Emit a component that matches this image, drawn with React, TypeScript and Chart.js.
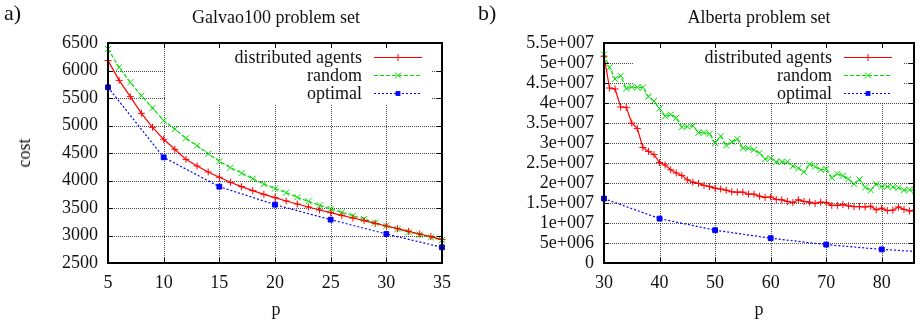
import React, { useEffect, useRef } from 'react';
import { Chart, registerables } from 'chart.js';

Chart.register(...registerables);

const FONT = '"Liberation Serif", "Times New Roman", serif';

// ---------- Galvao100 problem set ----------
const galvaoP = [5, 6, 7, 8, 9, 10, 11, 12, 13, 14, 15, 16, 17, 18, 19, 20, 21, 22, 23, 24, 25, 26, 27, 28, 29, 30, 31, 32, 33, 34, 35];
const galvaoAgents = [6179, 5821, 5524, 5221, 4967, 4749, 4567, 4385, 4264, 4155, 4058, 3967, 3888, 3815, 3749, 3688, 3627, 3573, 3518, 3464, 3415, 3367, 3318, 3270, 3221, 3173, 3124, 3076, 3027, 2979, 2924];
const galvaoRandom = [6391, 6058, 5785, 5542, 5318, 5088, 4936, 4767, 4633, 4488, 4349, 4233, 4136, 4033, 3936, 3852, 3779, 3694, 3621, 3549, 3482, 3421, 3361, 3300, 3233, 3179, 3118, 3064, 3015, 2967, 2918];
const galvaoOptimalP = [5, 10, 15, 20, 25, 30, 35];
const galvaoOptimal = [5694, 4421, 3888, 3561, 3288, 3027, 2785];
const galvaoXTicks = [5, 10, 15, 20, 25, 30, 35];
const galvaoYTicks = [2500, 3000, 3500, 4000, 4500, 5000, 5500, 6000, 6500];

// ---------- Alberta problem set ----------
const albertaP = [30, 31, 32, 33, 34, 35, 36, 37, 38, 39, 40, 41, 42, 43, 44, 45, 46, 47, 48, 49, 50, 51, 52, 53, 54, 55, 56, 57, 58, 59, 60, 61, 62, 63, 64, 65, 66, 67, 68, 69, 70, 71, 72, 73, 74, 75, 76, 77, 78, 79, 80, 81, 82, 83, 84, 85, 86];
const albertaAgents = [
  5.17e7, 4.375e7, 4.35e7, 3.9e7, 3.89e7, 3.5e7, 3.36e7, 2.89e7, 2.79e7, 2.71e7,
  2.51e7, 2.45e7, 2.33e7, 2.25e7, 2.19e7, 2.08e7, 2.02e7, 1.99e7, 1.94e7, 1.91e7,
  1.87e7, 1.85e7, 1.82e7, 1.78e7, 1.77e7, 1.77e7, 1.72e7, 1.72e7, 1.67e7, 1.64e7,
  1.65e7, 1.59e7, 1.58e7, 1.54e7, 1.51e7, 1.58e7, 1.54e7, 1.52e7, 1.49e7, 1.52e7,
  1.51e7, 1.44e7, 1.44e7, 1.46e7, 1.43e7, 1.41e7, 1.41e7, 1.4e7, 1.42e7, 1.33e7,
  1.37e7, 1.31e7, 1.32e7, 1.4e7, 1.34e7, 1.3e7, 1.32e7,
];
const albertaRandom = [
  5.21e7, 4.89e7, 4.6e7, 4.68e7, 4.36e7, 4.4e7, 4.39e7, 4.39e7, 4.16e7, 4.05e7,
  3.86e7, 3.67e7, 3.71e7, 3.63e7, 3.4e7, 3.41e7, 3.43e7, 3.26e7, 3.26e7, 3.23e7,
  3.0e7, 3.17e7, 2.94e7, 3.03e7, 3.1e7, 2.87e7, 2.87e7, 2.83e7, 2.75e7, 2.6e7,
  2.62e7, 2.53e7, 2.53e7, 2.53e7, 2.42e7, 2.37e7, 2.27e7, 2.47e7, 2.41e7, 2.33e7,
  2.35e7, 2.13e7, 2.23e7, 2.18e7, 2.1e7, 1.98e7, 2.09e7, 1.89e7, 1.82e7, 1.97e7,
  1.91e7, 1.91e7, 1.9e7, 1.88e7, 1.82e7, 1.83e7, 1.81e7,
];
const albertaOptimalP = [30, 40, 50, 60, 70, 80, 86];
const albertaOptimal = [1.61e7, 1.11e7, 8.2e6, 6.2e6, 4.6e6, 3.4e6, 2.9e6];
const albertaXTicks = [30, 40, 50, 60, 70, 80];
const albertaYTicks = [0, 5e6, 1e7, 1.5e7, 2e7, 2.5e7, 3e7, 3.5e7, 4e7, 4.5e7, 5e7, 5.5e7];

const seriesLabels = ['distributed agents', 'random', 'optimal'];

const RED = '#ff0000';
const GREEN = '#00dd00';
const BLUE = '#0000ff';

function gnuplotExp(v: number): string {
  if (v === 0) return '0';
  const e = Math.floor(Math.log10(Math.abs(v)) + 1e-9);
  const m = Math.round((v / Math.pow(10, e)) * 1000) / 1000;
  const sign = e >= 0 ? '+' : '-';
  return `${m}e${sign}${String(Math.abs(e)).padStart(3, '0')}`;
}

function drawMarker(ctx: CanvasRenderingContext2D, style: string, x: number, y: number, color: string) {
  ctx.save();
  ctx.setLineDash([]);
  ctx.strokeStyle = color;
  ctx.fillStyle = color;
  ctx.lineWidth = 1;
  ctx.beginPath();
  if (style === 'cross') {
    ctx.moveTo(x - 3.5, y);
    ctx.lineTo(x + 3.5, y);
    ctx.moveTo(x, y - 3.5);
    ctx.lineTo(x, y + 3.5);
    ctx.stroke();
  } else if (style === 'crossRot') {
    const d = 3;
    ctx.moveTo(x - d, y - d);
    ctx.lineTo(x + d, y + d);
    ctx.moveTo(x - d, y + d);
    ctx.lineTo(x + d, y - d);
    ctx.stroke();
  } else {
    ctx.fillRect(x - 2.4, y - 2.4, 4.8, 4.8);
  }
  ctx.restore();
}

const gnuplotPlugin = {
  id: 'gnuplotFrame',
  beforeDatasetsDraw(chart: any, _args: any, opts: any) {
    const { ctx, chartArea } = chart;
    const { left, right, top, bottom } = chartArea;
    const xs = chart.scales.x;
    const ys = chart.scales.y;
    ctx.save();
    // dotted grid
    ctx.strokeStyle = 'rgba(0,0,0,0.7)';
    ctx.lineWidth = 1;
    ctx.setLineDash([1, 1]);
    ctx.beginPath();
    xs.ticks.forEach((t: any) => {
      const px = Math.round(xs.getPixelForValue(t.value)) + 0.5;
      ctx.moveTo(px, top);
      ctx.lineTo(px, bottom);
    });
    ys.ticks.forEach((t: any) => {
      const py = Math.round(ys.getPixelForValue(t.value)) + 0.5;
      ctx.moveTo(left, py);
      ctx.lineTo(right, py);
    });
    ctx.stroke();
    // opaque key box
    const b = opts.box;
    ctx.setLineDash([]);
    ctx.fillStyle = '#ffffff';
    ctx.fillRect(b.left, b.top, b.right - b.left, b.bottom - b.top);
    ctx.restore();
  },
  afterDatasetsDraw(chart: any, _args: any, opts: any) {
    const { ctx, chartArea } = chart;
    const { left, right, top, bottom } = chartArea;
    ctx.save();
    // inward tick marks
    ctx.strokeStyle = '#000';
    ctx.lineWidth = 1;
    ctx.setLineDash([]);
    const tl = 5;
    const xs = chart.scales.x;
    const ys = chart.scales.y;
    ctx.beginPath();
    xs.ticks.forEach((t: any) => {
      const px = Math.round(xs.getPixelForValue(t.value)) + 0.5;
      ctx.moveTo(px, bottom);
      ctx.lineTo(px, bottom - tl);
      ctx.moveTo(px, top);
      ctx.lineTo(px, top + tl);
    });
    ys.ticks.forEach((t: any) => {
      const py = Math.round(ys.getPixelForValue(t.value)) + 0.5;
      ctx.moveTo(left, py);
      ctx.lineTo(left + tl, py);
      ctx.moveTo(right, py);
      ctx.lineTo(right - tl, py);
    });
    ctx.stroke();
    // frame
    ctx.lineWidth = 2;
    ctx.strokeRect(left, top, right - left, bottom - top);

    // key entries
    const lg = opts.legend;
    ctx.font = `18px ${FONT}`;
    ctx.textAlign = 'right';
    ctx.textBaseline = 'middle';
    chart.data.datasets.forEach((ds: any, i: number) => {
      const y = lg.y0 + i * lg.dy;
      ctx.fillStyle = '#111';
      ctx.fillText(ds.label, lg.textRight, y + 1);
      ctx.save();
      ctx.strokeStyle = ds.borderColor;
      ctx.lineWidth = ds.borderWidth;
      ctx.setLineDash(ds.borderDash || []);
      ctx.beginPath();
      ctx.moveTo(lg.lineStart, y);
      ctx.lineTo(lg.lineEnd, y);
      ctx.stroke();
      ctx.restore();
      drawMarker(ctx, ds.pointStyle, (lg.lineStart + lg.lineEnd) / 2, y, ds.borderColor);
    });
    ctx.restore();
  },
};

type PanelProps = {
  xs: number[][];
  ys: number[][];
  markerEvery: (i: number, x: number, set: number) => boolean;
  xMin: number;
  xMax: number;
  xTicks: number[];
  yMin: number;
  yMax: number;
  yTicks: number[];
  yFormat: (v: number) => string;
  axisWidth: number;
  padRight: number;
  box: { left: number; right: number; top: number; bottom: number };
  legend: { textRight: number; lineStart: number; lineEnd: number; y0: number; dy: number };
  clip: any;
};

function Panel(props: PanelProps) {
  const ref = useRef<HTMLCanvasElement | null>(null);
  useEffect(() => {
    if (!ref.current) return;
    const colors = [RED, GREEN, BLUE];
    const styles = ['cross', 'crossRot', 'rect'];
    const dashes = [[], [4, 2], [2, 2]];
    const datasets = props.xs.map((xv, s) => ({
      label: seriesLabels[s],
      data: xv.map((x, i) => ({ x, y: props.ys[s][i] })),
      borderColor: colors[s],
      backgroundColor: colors[s],
      borderWidth: 1.2,
      borderDash: dashes[s],
      pointStyle: styles[s],
      pointRadius: xv.map((x, i) => (props.markerEvery(i, x, s) ? (s === 2 ? 3.4 : s === 1 ? 4.3 : 3.5) : 0)),
      pointBorderWidth: 1,
      pointBorderColor: colors[s],
      pointBackgroundColor: colors[s],
      tension: 0,
      clip: props.clip,
    }));
    const gridStyle = { display: false, drawTicks: false };
    const chart = new Chart(ref.current, {
      type: 'line',
      data: { datasets },
      plugins: [gnuplotPlugin as any],
      options: {
        responsive: false,
        animation: false,
        devicePixelRatio: 1,
        layout: { padding: { top: 43, right: props.padRight, bottom: 0, left: 0 } },
        plugins: {
          legend: { display: false },
          tooltip: { enabled: false },
          title: { display: false },
          gnuplotFrame: { box: props.box, legend: props.legend },
        } as any,
        scales: {
          x: {
            type: 'linear',
            min: props.xMin,
            max: props.xMax,
            afterBuildTicks: (s: any) => {
              s.ticks = props.xTicks.map((v) => ({ value: v }));
            },
            afterFit: (s: any) => {
              s.height = 64;
            },
            grid: gridStyle,
            border: { display: false },
            ticks: {
              font: { family: FONT, size: 18 },
              color: '#111',
              padding: 9,
              maxRotation: 0,
              autoSkip: false,
              callback: (v: any) => String(v),
            },
          },
          y: {
            type: 'linear',
            min: props.yMin,
            max: props.yMax,
            afterBuildTicks: (s: any) => {
              s.ticks = props.yTicks.map((v) => ({ value: v }));
            },
            afterFit: (s: any) => {
              s.width = props.axisWidth;
            },
            grid: gridStyle,
            border: { display: false },
            ticks: {
              font: { family: FONT, size: 18 },
              color: '#111',
              padding: 10,
              autoSkip: false,
              callback: (v: any) => props.yFormat(Number(v)),
            },
          },
        },
      } as any,
    });
    return () => chart.destroy();
  }, []);
  return <canvas ref={ref} width={460} height={327} style={{ position: 'absolute', left: 0, top: 0 }} />;
}

const textBase: React.CSSProperties = {
  position: 'absolute',
  fontFamily: FONT,
  color: '#111',
  whiteSpace: 'nowrap',
};

export default function App() {
  return (
    <div style={{ position: 'fixed', left: 0, top: 0, width: 920, height: 327, background: '#fff', overflow: 'hidden' }}>
      <div style={{ position: 'absolute', left: 0, top: 0, width: 460, height: 327 }}>
        <Panel
          xs={[galvaoP, galvaoP, galvaoOptimalP]}
          ys={[galvaoAgents, galvaoRandom, galvaoOptimal]}
          markerEvery={() => true}
          xMin={5}
          xMax={35}
          xTicks={galvaoXTicks}
          yMin={2500}
          yMax={6500}
          yTicks={galvaoYTicks}
          yFormat={(v) => String(v)}
          axisWidth={108}
          padRight={16}
          box={{ left: 166, right: 432, top: 43, bottom: 104 }}
          legend={{ textRight: 362, lineStart: 374, lineEnd: 422, y0: 57.5, dy: 18 }}
          clip={false}
        />
        <div style={{ ...textBase, left: 4, top: 2, fontSize: 22, lineHeight: '22px' }}>a)</div>
        <div style={{ ...textBase, left: 108, width: 336, top: 8, textAlign: 'center', fontSize: 18, lineHeight: '18px' }}>
          Galvao100 problem set
        </div>
        <div style={{ ...textBase, left: 108, width: 336, top: 300, textAlign: 'center', fontSize: 18, lineHeight: '18px' }}>p</div>
        <div
          style={{
            ...textBase,
            left: 24,
            top: 153,
            fontSize: 18,
            lineHeight: '18px',
            transform: 'translate(-50%, -50%) rotate(-90deg)',
          }}
        >
          cost
        </div>
      </div>
      <div style={{ position: 'absolute', left: 460, top: 0, width: 460, height: 327 }}>
        <Panel
          xs={[albertaP, albertaP, albertaOptimalP]}
          ys={[albertaAgents, albertaRandom, albertaOptimal]}
          markerEvery={(i, x, s) => (s === 2 ? x % 10 === 0 : true)}
          xMin={30}
          xMax={85.8}
          xTicks={albertaXTicks}
          yMin={0}
          yMax={5.5e7}
          yTicks={albertaYTicks}
          yFormat={gnuplotExp}
          axisWidth={144}
          padRight={6}
          box={{ left: 173, right: 443, top: 43, bottom: 103 }}
          legend={{ textRight: 372, lineStart: 384, lineEnd: 432, y0: 57.5, dy: 18 }}
          clip={{ left: 10, top: 10, right: 0, bottom: 10 }}
        />
        <div style={{ ...textBase, left: 18, top: 2, fontSize: 22, lineHeight: '22px' }}>b)</div>
        <div style={{ ...textBase, left: 144, width: 310, top: 8, textAlign: 'center', fontSize: 18, lineHeight: '18px' }}>
          Alberta problem set
        </div>
        <div style={{ ...textBase, left: 144, width: 310, top: 300, textAlign: 'center', fontSize: 18, lineHeight: '18px' }}>p</div>
      </div>
    </div>
  );
}
